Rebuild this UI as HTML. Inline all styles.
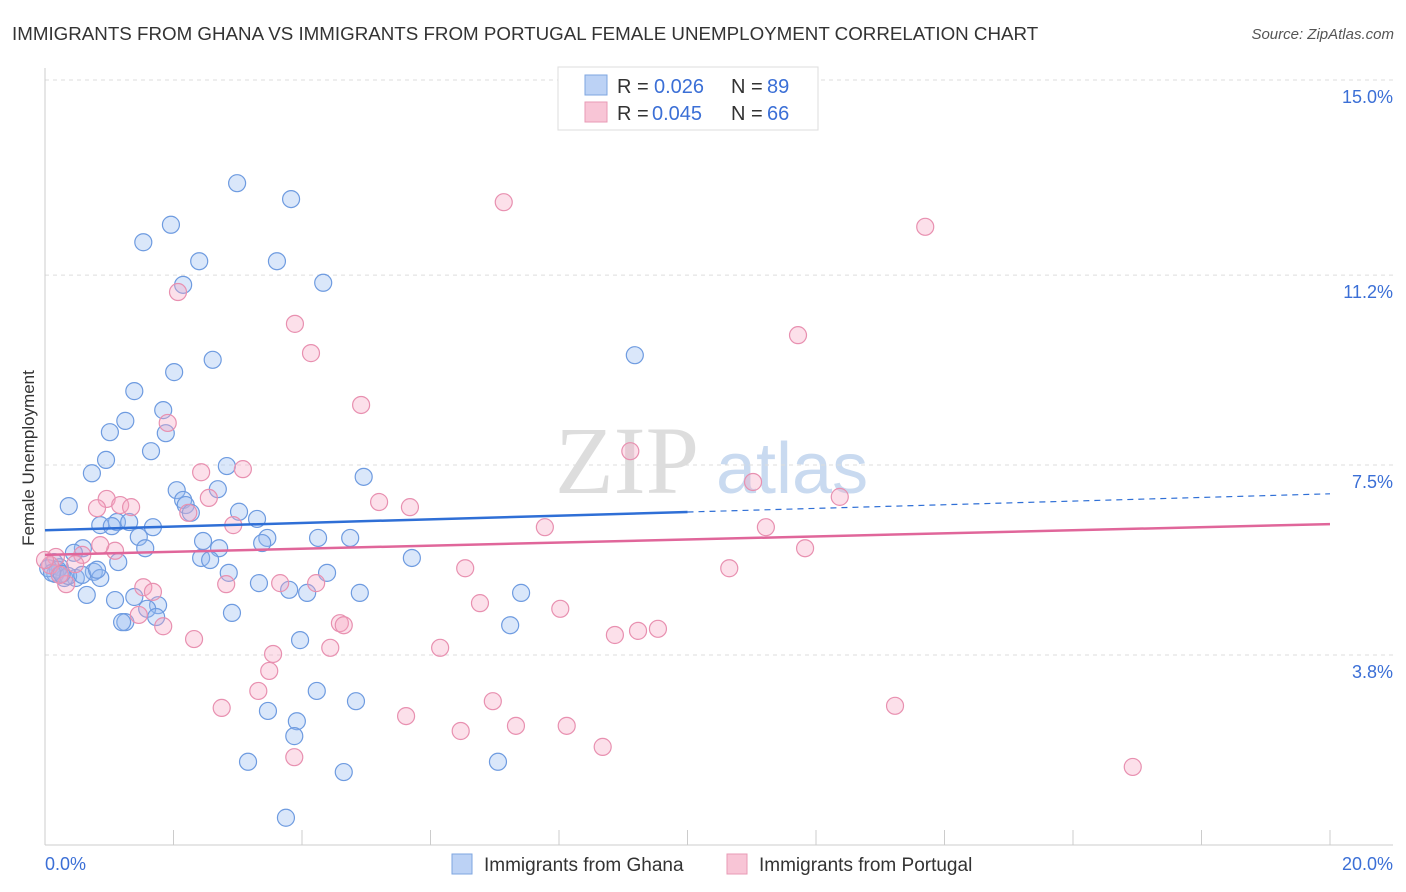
<!DOCTYPE html>
<html><head><meta charset="utf-8"><style>
body{margin:0;background:#fff;font-family:"Liberation Sans",sans-serif;}
svg{display:block}
</style></head><body>
<svg id="chart" width="1406" height="892" xmlns="http://www.w3.org/2000/svg">
<text x="12" y="40" font-size="18.75" fill="#333">IMMIGRANTS FROM GHANA VS IMMIGRANTS FROM PORTUGAL FEMALE UNEMPLOYMENT CORRELATION CHART</text>
<text x="1394" y="39" font-size="15" fill="#555" text-anchor="end" font-style="italic">Source: ZipAtlas.com</text>
<text x="555" y="493" font-size="96" fill="#ddd" font-family="Liberation Serif,serif">ZIP</text>
<text x="716" y="493" font-size="72" fill="#c9daf0">atlas</text>
<text x="34" y="458" font-size="17" fill="#333" text-anchor="middle" transform="rotate(-90 34 458)">Female Unemployment</text>
<g id="grid"></g><g id="marks"></g><g id="trends"></g>
<g>
<rect x="558" y="67" width="260" height="63" fill="#fff" stroke="#ddd"/>
<rect x="585" y="75" width="22" height="20" fill="#bcd2f5" stroke="#7ea6e0"/>
<rect x="585" y="102" width="22" height="20" fill="#f8c5d6" stroke="#e89ab5"/>
<text x="617" y="93" font-size="20" fill="#333">R =</text>
<text x="654" y="93" font-size="20" fill="#3b6fd6">0.026</text>
<text x="731" y="93" font-size="20" fill="#333">N =</text>
<text x="767" y="93" font-size="20" fill="#3b6fd6">89</text>
<text x="617" y="120" font-size="20" fill="#333">R =</text>
<text x="652" y="120" font-size="20" fill="#3b6fd6">0.045</text>
<text x="731" y="120" font-size="20" fill="#333">N =</text>
<text x="767" y="120" font-size="20" fill="#3b6fd6">66</text>
</g>
<g>
<rect x="452" y="854" width="20" height="20" fill="#bcd2f5" stroke="#7ea6e0"/>
<text x="484" y="871" font-size="19" fill="#333">Immigrants from Ghana</text>
<rect x="727" y="854" width="20" height="20" fill="#f8c5d6" stroke="#e89ab5"/>
<text x="759" y="871" font-size="19" fill="#333">Immigrants from Portugal</text>
</g>
</svg>
<script>
const yTicks=[3.8,7.5,11.2,15.0];
const yTickLabels=["3.8%","7.5%","11.2%","15.0%"];
const xTickLabels=["0.0%","20.0%"];
const ghanaX=[2.99,3.83,1.96,1.53,2.40,3.61,2.15,4.33,2.61,9.18,2.01,1.39,1.84,1.25,1.01,1.88,1.65,0.95,0.73,2.83,4.96,0.37,2.05,2.69,2.15,2.19,2.27,3.02,3.30,1.12,0.86,1.31,1.04,1.68,1.46,2.46,3.46,3.38,4.25,4.75,1.56,2.71,0.59,0.45,2.43,2.57,1.14,5.71,0.14,0.23,0.76,0.86,0.48,0.30,0.16,2.86,4.39,3.33,0.65,3.80,4.08,4.90,7.41,1.09,1.39,1.76,1.59,1.73,2.91,1.25,1.20,7.24,3.97,4.23,4.84,3.47,3.92,3.88,3.16,7.05,4.65,3.75,0.20,0.05,0.36,0.58,0.81,0.11,0.26];
const ghanaY=[12.99,12.68,12.18,11.84,11.47,11.47,11.01,11.05,9.55,9.64,9.31,8.94,8.57,8.36,8.14,8.12,7.77,7.60,7.34,7.48,7.27,6.70,7.01,7.03,6.82,6.72,6.57,6.59,6.45,6.39,6.33,6.39,6.31,6.29,6.10,6.02,6.08,5.98,6.08,6.08,5.88,5.88,5.88,5.79,5.69,5.65,5.61,5.69,5.61,5.51,5.42,5.30,5.30,5.30,5.38,5.40,5.40,5.20,4.97,5.07,5.01,5.01,5.01,4.87,4.93,4.77,4.70,4.54,4.62,4.44,4.44,4.38,4.09,3.10,2.90,2.71,2.51,2.22,1.72,1.72,1.52,0.63,5.46,5.49,5.34,5.36,5.46,5.40,5.38];
const portX=[7.14,13.70,2.07,3.89,11.72,4.14,4.92,1.91,9.11,3.08,2.43,11.02,12.37,5.20,2.55,5.68,0.96,1.17,1.34,0.81,2.23,2.93,7.78,11.22,11.83,1.09,0.58,0.17,6.54,10.65,0.47,1.53,1.68,3.66,4.22,2.82,0.33,6.77,8.02,1.46,1.84,4.59,4.65,9.54,9.23,8.87,2.32,4.44,6.15,3.55,3.49,3.32,6.97,2.75,13.23,5.62,7.33,8.12,6.47,8.68,3.88,16.93,0.08,0.23,0.00,0.86];
const portY=[12.62,12.14,10.87,10.25,10.03,9.68,8.67,8.32,7.77,7.42,7.36,7.17,6.88,6.78,6.86,6.68,6.84,6.72,6.68,6.66,6.57,6.33,6.29,6.29,5.88,5.83,5.75,5.71,5.49,5.49,5.57,5.12,5.03,5.20,5.20,5.18,5.18,4.81,4.70,4.58,4.36,4.42,4.38,4.31,4.27,4.19,4.11,3.94,3.94,3.82,3.49,3.10,2.90,2.77,2.81,2.61,2.42,2.42,2.32,2.01,1.81,1.62,5.55,5.36,5.65,5.94];
const ghanaTrend=[6.23,6.94];
const portTrend=[5.75,6.35];
const NS="http://www.w3.org/2000/svg";
const X=v=>45+v*64.25, Y=v=>655-(v-3.8)*51.34;
function mk(t,a,p){const e=document.createElementNS(NS,t);for(const k in a)e.setAttribute(k,a[k]);p.appendChild(e);return e;}
const grid=document.getElementById('grid'),marks=document.getElementById('marks'),tr=document.getElementById('trends');
yTicks.forEach((t,i)=>{const l=mk('line',{x1:45,x2:1393,y1:Y(t),y2:Y(t),stroke:'#ddd','stroke-dasharray':'4,4'},grid);

const tx=mk('text',{x:1393,y:Y(t)+23,'font-size':18,fill:'#3b6fd6','text-anchor':'end'},grid);tx.textContent=yTickLabels[i];
});
const ax=mk('line',{x1:45,x2:1393,y1:845,y2:845,stroke:'#ccc'},grid);
const ay=mk('line',{x1:45,x2:45,y1:68,y2:845,stroke:'#ccc'},grid);
for(let i=0;i<=10;i++){const t=mk('line',{x1:X(i*2),x2:X(i*2),y1:830,y2:845,stroke:'#ccc'},grid);}
[[0,'start',45],[20,'end',1393]].forEach((d,i)=>{const t=mk('text',{x:d[2],y:870,'font-size':18,fill:'#3b6fd6','text-anchor':d[1]},grid);t.textContent=xTickLabels[i];
});
ghanaX.forEach((x,i)=>{const c=mk('circle',{cx:X(x),cy:Y(ghanaY[i]),r:8.5,fill:'rgba(150,185,240,0.35)',stroke:'#6e9be0','stroke-width':1.2},marks);
});
portX.forEach((x,i)=>{const c=mk('circle',{cx:X(x),cy:Y(portY[i]),r:8.5,fill:'rgba(245,165,195,0.35)',stroke:'#e890b0','stroke-width':1.2},marks);
});
const gm=ghanaTrend[0]+(ghanaTrend[1]-ghanaTrend[0])*0.5;
const l1=mk('line',{x1:X(0),y1:Y(ghanaTrend[0]),x2:X(10),y2:Y(gm),stroke:'#2f6fd6','stroke-width':2.5},tr);

const l2=mk('line',{x1:X(10),y1:Y(gm),x2:X(20),y2:Y(ghanaTrend[1]),stroke:'#2f6fd6','stroke-width':1.2,'stroke-dasharray':'6,5'},tr);

const l3=mk('line',{x1:X(0),y1:Y(portTrend[0]),x2:X(20),y2:Y(portTrend[1]),stroke:'#e0669a','stroke-width':2.5},tr);

</script>
</body></html>
